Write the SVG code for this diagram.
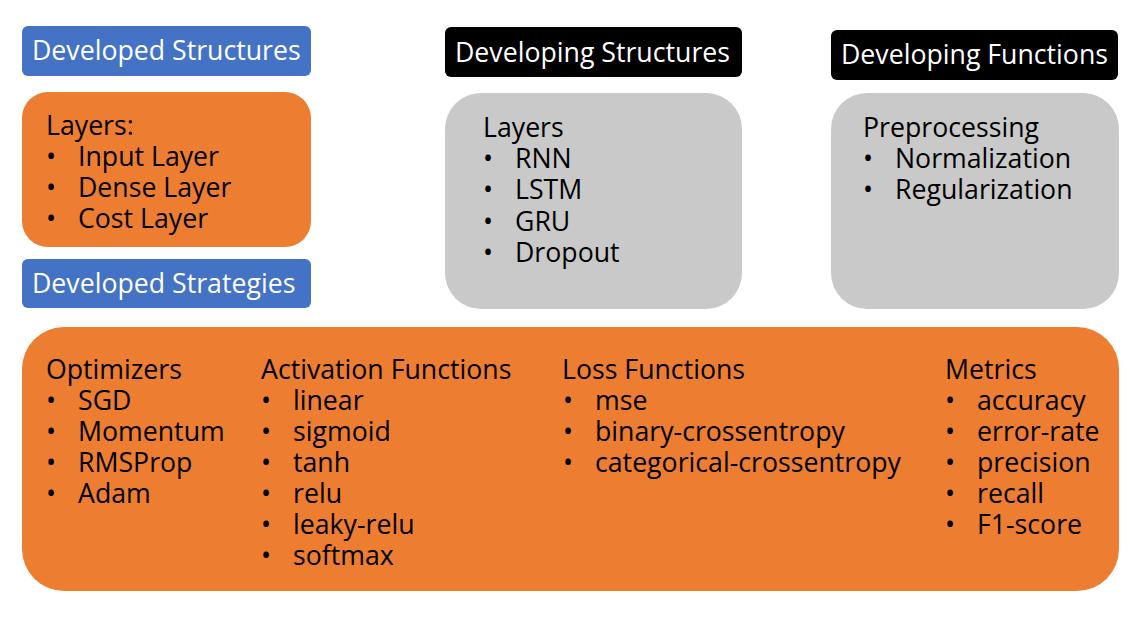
<svg xmlns="http://www.w3.org/2000/svg" width="1146" height="617" viewBox="0 0 1146 617">
<style>
text{font-family:"Open Sans","Noto Sans","DejaVu Sans",sans-serif;font-size:26.7px;fill:#000}
.w{fill:#fff}
.blue{fill:#4472C4}
.orange{fill:#ED7D31}
.gray{fill:#C9C9C9}
.black{fill:#000}
</style>
<rect width="1146" height="617" fill="#fff"/>
<g id="developed-structures-label">
<rect class="blue" x="22" y="26" width="289" height="50" rx="6"/>
<text class="w" x="32" y="60">Developed Structures</text>
</g>
<g id="developed-layers">
<rect class="orange" x="22" y="92" width="289" height="155" rx="26"/>
<text><tspan x="46" y="135">Layers:</tspan><tspan x="46" y="166">•</tspan><tspan x="78" y="166">Input Layer</tspan><tspan x="46" y="197">•</tspan><tspan x="78" y="197">Dense Layer</tspan><tspan x="46" y="228">•</tspan><tspan x="78" y="228">Cost Layer</tspan></text>
</g>
<g id="developed-strategies-label">
<rect class="blue" x="22" y="259" width="289" height="49" rx="6"/>
<text class="w" x="32" y="293">Developed Strategies</text>
</g>
<g id="developing-structures-label">
<rect class="black" x="445" y="27" width="297" height="50" rx="6"/>
<text class="w" x="455" y="62">Developing Structures</text>
</g>
<g id="developing-structures">
<rect class="gray" x="445" y="93" width="297" height="216" rx="36"/>
<text><tspan x="483" y="137">Layers</tspan><tspan x="483" y="168">•</tspan><tspan x="515" y="168">RNN</tspan><tspan x="483" y="199">•</tspan><tspan x="515" y="199">LSTM</tspan><tspan x="483" y="231">•</tspan><tspan x="515" y="231">GRU</tspan><tspan x="483" y="262">•</tspan><tspan x="515" y="262">Dropout</tspan></text>
</g>
<g id="developing-functions-label">
<rect class="black" x="831" y="30" width="287" height="50" rx="6"/>
<text class="w" x="841" y="64">Developing Functions</text>
</g>
<g id="developing-functions">
<rect class="gray" x="831" y="93" width="288" height="216" rx="36"/>
<text><tspan x="863" y="137">Preprocessing</tspan><tspan x="863" y="168">•</tspan><tspan x="895" y="168">Normalization</tspan><tspan x="863" y="199">•</tspan><tspan x="895" y="199">Regularization</tspan></text>
</g>
<g id="developed-strategies">
<rect class="orange" x="22" y="327" width="1097" height="264" rx="42"/>
<text><tspan x="46" y="379">Optimizers</tspan><tspan x="46" y="410">•</tspan><tspan x="78" y="410">SGD</tspan><tspan x="46" y="441">•</tspan><tspan x="78" y="441">Momentum</tspan><tspan x="46" y="472">•</tspan><tspan x="78" y="472">RMSProp</tspan><tspan x="46" y="503">•</tspan><tspan x="78" y="503">Adam</tspan></text>
<text><tspan x="261" y="379">Activation Functions</tspan><tspan x="261" y="410">•</tspan><tspan x="293" y="410">linear</tspan><tspan x="261" y="441">•</tspan><tspan x="293" y="441">sigmoid</tspan><tspan x="261" y="472">•</tspan><tspan x="293" y="472">tanh</tspan><tspan x="261" y="503">•</tspan><tspan x="293" y="503">relu</tspan><tspan x="261" y="534">•</tspan><tspan x="293" y="534">leaky-relu</tspan><tspan x="261" y="565">•</tspan><tspan x="293" y="565">softmax</tspan></text>
<text><tspan x="562" y="379">Loss Functions</tspan><tspan x="563" y="410">•</tspan><tspan x="595" y="410">mse</tspan><tspan x="563" y="441">•</tspan><tspan x="595" y="441">binary-crossentropy</tspan><tspan x="563" y="472">•</tspan><tspan x="595" y="472">categorical-crossentropy</tspan></text>
<text><tspan x="945" y="379">Metrics</tspan><tspan x="945" y="410">•</tspan><tspan x="977" y="410">accuracy</tspan><tspan x="945" y="441">•</tspan><tspan x="977" y="441">error-rate</tspan><tspan x="945" y="472">•</tspan><tspan x="977" y="472">precision</tspan><tspan x="945" y="503">•</tspan><tspan x="977" y="503">recall</tspan><tspan x="945" y="534">•</tspan><tspan x="977" y="534">F1-score</tspan></text>
</g>
<g id="connectors"></g>
</svg>
